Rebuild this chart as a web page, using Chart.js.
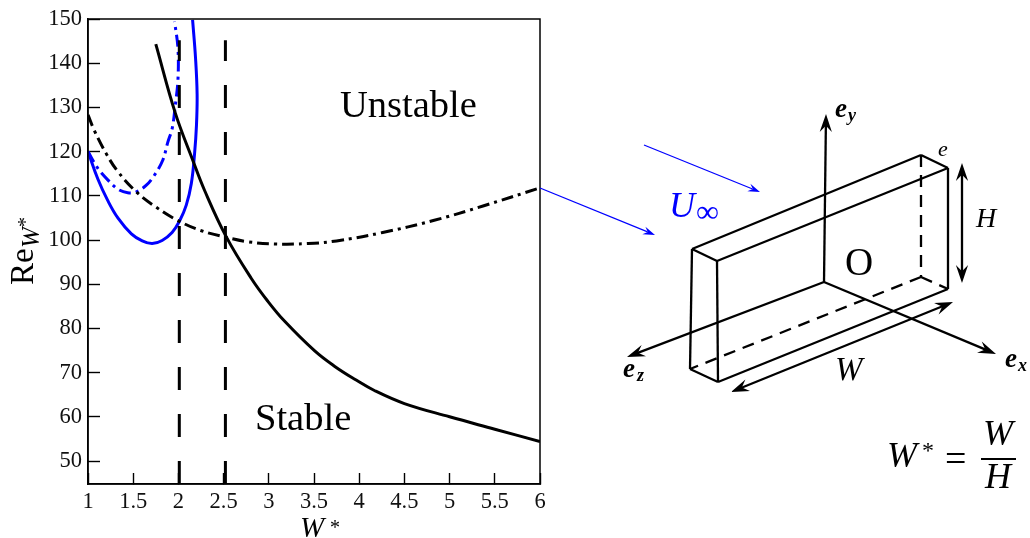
<!DOCTYPE html>
<html>
<head>
<meta charset="utf-8">
<style>
body { margin: 0; background: #fff; overflow: hidden; }
canvas { position: absolute; left: 0; top: 0; }
</style>
<script src="https://cdn.jsdelivr.net/npm/chart.js@4"></script>
</head>
<body>
<canvas id="plot" width="1030" height="538"></canvas>
<canvas id="sketch" width="1030" height="538"></canvas>
<script>
// tick labels
let xTicks = [1, 1.5, 2, 2.5, 3, 3.5, 4, 4.5, 5, 5.5, 6]
let yTicks = [50, 60, 70, 80, 90, 100, 110, 120, 130, 140, 150]

// curves
let blackSolidX = [1.75, 1.966, 2.16, 2.29, 2.53, 2.807, 2.991, 3.176, 3.508, 3.73, 3.951, 4.173, 4.5, 5.0, 5.5, 6.0]
let blackSolidY = [144.3, 128.7, 118.0, 111.2, 100.7, 91.3, 86.1, 81.6, 74.9, 71.4, 68.5, 65.9, 63.0, 60.0, 57.2, 54.4]
let blackDashX = [1.0, 1.072, 1.2, 1.33, 1.534, 1.755, 1.995, 2.254, 2.53, 2.77, 3.065, 3.434, 3.75, 4.26, 4.82, 5.37, 6.0]
let blackDashY = [128.3, 124.7, 119.6, 115.5, 110.9, 107.4, 104.4, 102.1, 100.6, 99.6, 99.1, 99.2, 99.8, 101.7, 104.4, 107.7, 111.8]
let blueSolidX = [1.0, 1.109, 1.219, 1.33, 1.48, 1.6, 1.71, 1.82, 1.93, 2.013, 2.087, 2.143, 2.179, 2.2, 2.207, 2.19, 2.157]
let blueSolidY = [120, 113.8, 108.9, 105.0, 101.4, 99.8, 99.2, 99.9, 101.7, 104.3, 107.9, 112.8, 119.6, 126, 133, 141, 149.8]
let blueDashX = [1.0, 1.109, 1.219, 1.33, 1.44, 1.534, 1.645, 1.736, 1.828, 1.884, 1.932, 1.966, 1.995, 1.995, 1.958]
let blueDashY = [120, 116.2, 113.6, 111.5, 110.7, 110.9, 112.4, 114.7, 118.1, 122.2, 125.3, 130.5, 136.2, 143.4, 149.4]
let limitX = [2.01, 2.52]
let limitY = [44.8, 145.2]

function pts(xs, ys) {
	return xs.map((x, i) => ({ x: x, y: ys[i] }))
}

function curve(xs, ys, color, dash, tension) {
	return {
		data: pts(xs, ys),
		borderColor: color,
		borderWidth: 3,
		borderDash: dash,
		showLine: true,
		pointRadius: 0,
		tension: tension
	}
}

function txt(ctx, s, x, y, font, color) {
	ctx.font = font
	ctx.fillStyle = color || "#000"
	ctx.textAlign = "left"
	ctx.textBaseline = "alphabetic"
	ctx.fillText(s, x, y)
}

const serif = '"Liberation Serif"'

// frame and the labels inside the plot
const plotText = {
	id: "plotText",
	afterDraw(chart) {
		const ctx = chart.ctx
		const a = chart.chartArea
		ctx.save()
		ctx.strokeStyle = "#000"
		ctx.lineWidth = 1.5
		ctx.strokeRect(a.left, a.top, a.right - a.left, a.bottom - a.top)
		txt(ctx, "Unstable", 340, 117, "38.5px " + serif)
		txt(ctx, "Stable", 255, 430, "38.5px " + serif)
		txt(ctx, "W", 300, 537, "italic 29px " + serif)
		txt(ctx, "*", 330, 534, "20px " + serif)
		ctx.translate(33, 285)
		ctx.rotate(-Math.PI / 2)
		txt(ctx, "Re", 0, 0, "33px " + serif)
		txt(ctx, "W", 37, 6, "italic 25px " + serif)
		txt(ctx, "*", 58, -1, "20px " + serif)
		ctx.restore()
	}
}

new Chart("plot", {
	type: "scatter",
	data: {
		datasets: [
			curve([limitX[0], limitX[0]], limitY, "#000", [23, 24], 0),
			curve([limitX[1], limitX[1]], limitY, "#000", [23, 24], 0),
			curve(blackDashX, blackDashY, "#000", [12, 5, 3, 5], 0.4),
			curve(blackSolidX, blackSolidY, "#000", [], 0.4),
			curve(blueDashX, blueDashY, "#0000ff", [12, 5, 3, 5], 0.35),
			curve(blueSolidX, blueSolidY, "#0000ff", [], 0.4)
		]
	},
	plugins: [plotText],
	options: {
		responsive: false,
		animation: false,
		layout: { padding: { left: 0, top: 19, right: 490, bottom: 0 }, autoPadding: false },
		plugins: { legend: { display: false }, tooltip: { enabled: false } },
		scales: {
			x: {
				min: 1,
				max: 6,
				afterFit(s) { s.height = 54 },
				afterBuildTicks(s) { s.ticks = xTicks.map(v => ({ value: v })) },
				grid: { drawOnChartArea: false, tickLength: -11, tickWidth: 1.4, tickColor: "#000" },
				border: { color: "#000", width: 1.5 },
				ticks: {
					padding: 16,
					maxRotation: 0,
					autoSkip: false,
					color: "#111",
					font: { family: "Liberation Serif", size: 22.5 },
					callback: v => String(v)
				}
			},
			y: {
				min: 44.8,
				max: 150,
				afterFit(s) { s.width = 88; s.paddingTop = 0; s.paddingBottom = 0 },
				afterBuildTicks(s) { s.ticks = yTicks.map(v => ({ value: v })) },
				grid: { drawOnChartArea: false, tickLength: -12, tickWidth: 1.4, tickColor: "#000" },
				border: { color: "#000", width: 1.5 },
				ticks: {
					padding: 18,
					autoSkip: false,
					color: "#111",
					font: { family: "Liberation Serif", size: 22.5 },
					callback: v => String(v)
				}
			}
		}
	}
})

// box sketch on the right, in window units of its own scales
let boxEdges = [
	[692, 249, 921, 155], [717, 261, 948, 168], [692, 249, 717, 261], [921, 155, 948, 168],
	[692, 249, 690, 369], [717, 261, 718, 382], [948, 168, 948, 289],
	[690, 369, 718, 382], [718, 382, 948, 289]
]
let hiddenEdges = [[921, 155, 921, 277], [921, 277, 948, 289], [921, 277, 690, 369]]
let axisArrows = [[824, 282, 826, 114], [824, 282, 996, 354], [824, 282, 627, 357]]
let sizeArrows = [[731, 392, 953, 302], [962, 163, 962, 283]]
let flowArrows = [[540, 188, 655, 235], [644, 145, 760, 192]]

function trim(e, both) {
	const d = Math.hypot(e[2] - e[0], e[3] - e[1])
	const ux = (e[2] - e[0]) / d, uy = (e[3] - e[1]) / d
	return [e[0] + (both > 1 ? ux * 8 : 0), e[1] + (both > 1 ? uy * 8 : 0), e[2] - ux * 8, e[3] - uy * 8]
}

function seg(e, color, width, dash, heads) {
	const t = heads ? trim(e, heads) : e
	return {
		data: [{ x: t[0], y: t[1] }, { x: t[2], y: t[3] }],
		tip: e,
		heads: heads || 0,
		headSize: width < 1.5 ? 12 : 18,
		borderColor: color,
		borderWidth: width,
		borderDash: dash,
		showLine: true,
		pointRadius: 0,
		clip: false
	}
}

function head(ctx, x, y, fx, fy, size, color) {
	const d = Math.hypot(x - fx, y - fy)
	const ux = (x - fx) / d, uy = (y - fy) / d
	const w = size * 0.34
	ctx.fillStyle = color
	ctx.beginPath()
	ctx.moveTo(x, y)
	ctx.lineTo(x - ux * size - uy * w, y - uy * size + ux * w)
	ctx.lineTo(x - ux * size * 0.65, y - uy * size * 0.65)
	ctx.lineTo(x - ux * size + uy * w, y - uy * size - ux * w)
	ctx.closePath()
	ctx.fill()
}

const sketchText = {
	id: "sketchText",
	afterDraw(chart) {
		const ctx = chart.ctx
		const sx = chart.scales.x, sy = chart.scales.y
		ctx.save()
		chart.data.datasets.forEach(ds => {
			if (!ds.heads) return
			const e = ds.tip.map((v, i) => i % 2 ? sy.getPixelForValue(v) : sx.getPixelForValue(v))
			head(ctx, e[2], e[3], e[0], e[1], ds.headSize, ds.borderColor)
			if (ds.heads > 1) head(ctx, e[0], e[1], e[2], e[3], ds.headSize, ds.borderColor)
		})
		const bi = "italic bold 27px " + serif
		const bs = "italic bold 18px " + serif
		txt(ctx, "e", 835, 117, bi)
		txt(ctx, "y", 848, 121, bs)
		txt(ctx, "e", 1005, 367, bi)
		txt(ctx, "x", 1018, 371, bs)
		txt(ctx, "e", 623, 377, bi)
		txt(ctx, "z", 637, 381, bs)
		txt(ctx, "e", 938, 156, "italic 22px " + serif)
		txt(ctx, "H", 976, 227, "italic 28px " + serif)
		txt(ctx, "W", 835, 380, "italic 33px " + serif)
		txt(ctx, "O", 845, 275, "39px " + serif)
		txt(ctx, "U", 669, 217, "italic 36px " + serif, "#0000ff")
		txt(ctx, "\u221e", 696, 222, "32px " + serif, "#0000ff")
		txt(ctx, "W", 887, 467, "italic 36px " + serif)
		txt(ctx, "*", 922, 458, "24px " + serif)
		txt(ctx, "=", 945, 471, "38px " + serif)
		txt(ctx, "W", 983, 445, "italic 36px " + serif)
		txt(ctx, "H", 985, 488, "italic 36px " + serif)
		ctx.fillStyle = "#000"
		ctx.fillRect(981, 458, 35, 2)
		ctx.restore()
	}
}

new Chart("sketch", {
	type: "scatter",
	data: {
		datasets: [].concat(
			boxEdges.map(e => seg(e, "#000", 2.3, [], 0)),
			hiddenEdges.map(e => seg(e, "#000", 2.3, [12, 8], 0)),
			axisArrows.map(e => seg(e, "#000", 2.3, [], 1)),
			sizeArrows.map(e => seg(e, "#000", 2.3, [], 2)),
			flowArrows.map(e => seg(e, "#0000ff", 1.3, [], 1))
		)
	},
	plugins: [sketchText],
	options: {
		responsive: false,
		animation: false,
		layout: { padding: 0 },
		plugins: { legend: { display: false }, tooltip: { enabled: false } },
		scales: {
			x: { display: false, min: 0, max: 1030 },
			y: { display: false, min: 0, max: 538, reverse: true }
		}
	}
})
</script>
</body>
</html>
